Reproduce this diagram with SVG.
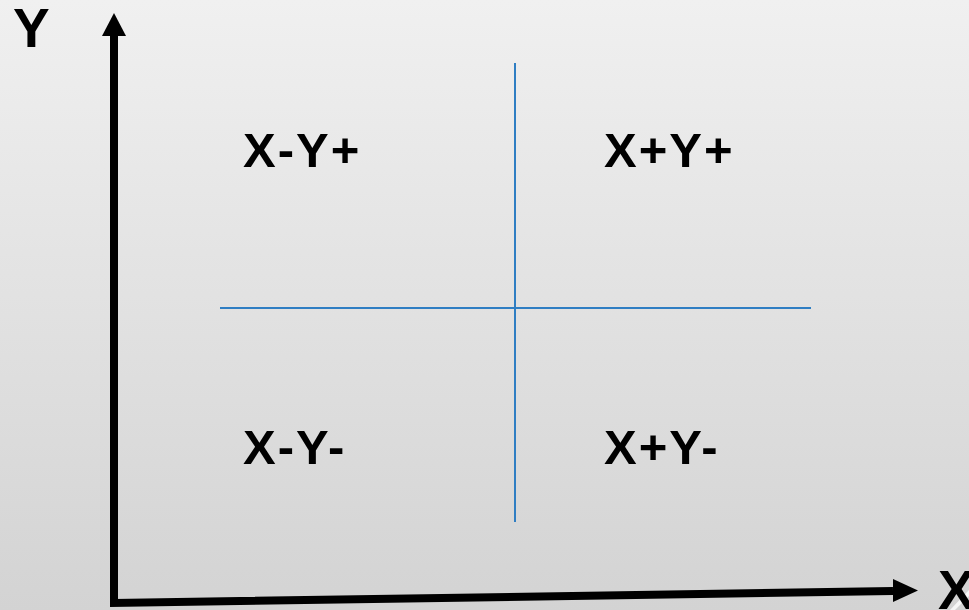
<svg xmlns="http://www.w3.org/2000/svg" width="969" height="610" viewBox="0 0 969 610">
  <defs>
    <linearGradient id="bg" x1="0" y1="0" x2="0" y2="1">
      <stop offset="0" stop-color="#f0f0f0"/>
      <stop offset="1" stop-color="#d3d3d3"/>
    </linearGradient>
    <style>
      .lbl { font-family: "Liberation Sans", Arial, sans-serif; font-weight: bold; fill: #000; }
      .q { font-size: 49px; letter-spacing: 2px; }
      .ax { font-size: 55px; }
      .axis { stroke: #000; stroke-width: 8; fill: none; }
      .div { stroke: #2f7ec3; stroke-width: 2; fill: none; }
    </style>
  </defs>
  <rect width="969" height="610" fill="url(#bg)"/>
  <path d="M969,590 L950,610 L955,610 L969,596 Z" fill="#ffffff" opacity="0.8"/>
  <g id="connectors">
    <line class="div" x1="515" y1="63" x2="515" y2="522"/>
    <line class="div" x1="220" y1="308" x2="811" y2="308"/>
    <path class="axis" d="M114,36 L114,603 L893,591" stroke-linejoin="miter"/>
    <polygon points="114,13 126,36 102,36" fill="#000"/>
    <polygon points="918,590.5 893,579 893,602" fill="#000"/>
  </g>
  <g id="axis-y"><text class="lbl ax" x="13" y="47">Y</text></g>
  <g id="axis-x"><text class="lbl ax" x="938" y="609">X</text></g>
  <g id="q-mp"><text class="lbl q" x="243" y="167">X-Y+</text></g>
  <g id="q-pp"><text class="lbl q" x="604" y="167">X+Y+</text></g>
  <g id="q-mm"><text class="lbl q" x="243" y="464">X-Y-</text></g>
  <g id="q-pm"><text class="lbl q" x="604" y="464">X+Y-</text></g>
</svg>
